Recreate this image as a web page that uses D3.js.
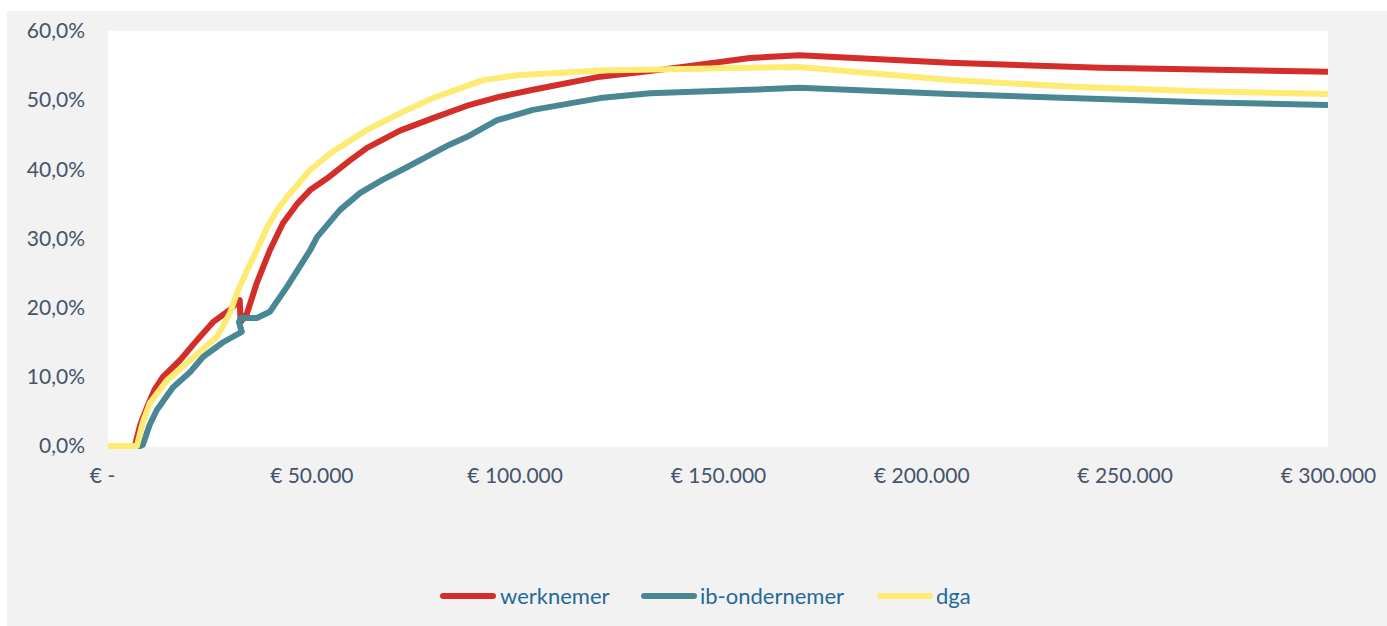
<!DOCTYPE html>
<html>
<head>
<meta charset="utf-8">
<script src="https://cdn.jsdelivr.net/npm/d3@7"></script>
<style>
  body { margin: 0; background: #fff; }
  svg { display: block; }
  .tick text { font-family: Lato, "Open Sans", sans-serif; font-size: 21px; fill: #44546a; }
</style>
</head>
<body>
<div id="graph_draw"></div>
<script>
// series names + colours
var seriesNames = ["werknemer", "ib-ondernemer", "dga"];
var seriesColors = ["#d42e2a", "#4a8795", "#fdeb74"];

// [inkomen, percentage]
var werknemer = [
  [0, 0], [6600, 0], [8000, 3.2], [9600, 5.6], [11500, 8.2], [13500, 10.0],
  [17700, 12.4], [21900, 15.3], [25800, 17.9], [30000, 19.7], [32400, 21.1],
  [32600, 17.9], [34200, 19.2], [36600, 23.6], [39800, 28.3], [43000, 32.2],
  [46500, 35.0], [49700, 37.0], [53900, 38.7], [59500, 41.3], [63700, 43.1],
  [71800, 45.6], [79900, 47.4], [88300, 49.2], [96400, 50.5], [104500, 51.5],
  [121000, 53.4], [133300, 54.2], [157900, 56.1], [170000, 56.5], [207000, 55.4],
  [244000, 54.7], [300000, 54.1]
];
var ibOndernemer = [
  [0, 0], [8000, 0], [8600, 0.2], [10200, 3.0], [12000, 5.2], [16000, 8.5],
  [20200, 10.7], [23400, 12.9], [28300, 15.0], [32900, 16.5], [32200, 17.9],
  [32600, 18.5], [36600, 18.5], [39800, 19.4], [44000, 23.0], [49700, 28.3],
  [51400, 30.2], [57000, 34.1], [62000, 36.6], [67600, 38.5], [73500, 40.3],
  [79200, 42.1], [84100, 43.6], [88300, 44.7], [95700, 47.1], [104500, 48.6],
  [121000, 50.3], [133300, 51.0], [157900, 51.5], [170000, 51.8], [207000, 50.9],
  [268500, 49.7], [300000, 49.3]
];
var dga = [
  [0, 0], [7100, 0], [8600, 3.5], [10300, 6.2], [14500, 9.5], [19400, 12.0],
  [26800, 15.8], [30000, 19.2], [31700, 22.1], [34200, 25.4], [36600, 28.3],
  [39100, 31.6], [41500, 34.0], [44000, 36.0], [49700, 39.9], [55300, 42.6],
  [63700, 45.7], [71800, 48.1], [79900, 50.3], [92200, 52.9], [100600, 53.6],
  [121000, 54.3], [157900, 54.7], [170000, 54.8], [207000, 52.9], [239000, 51.9],
  [268500, 51.3], [300000, 50.9]
];
var xTicks = [0, 50000, 100000, 150000, 200000, 250000, 300000];
var yTicks = [0, 10, 20, 30, 40, 50, 60];

var allSeries = [werknemer, ibOndernemer, dga];

var W = 1387, H = 626;
var plot = {left: 108, top: 31, right: 1328, bottom: 446};

var svg = d3.select("#graph_draw").append("svg")
    .attr("width", W)
    .attr("height", H);

// grey chart area
svg.append("rect")
    .attr("x", 7).attr("y", 11)
    .attr("width", W - 7).attr("height", H - 11)
    .attr("fill", "#f2f2f2");

// white plot area
svg.append("rect")
    .attr("x", plot.left).attr("y", plot.top)
    .attr("width", plot.right - plot.left).attr("height", plot.bottom - plot.top + 1)
    .attr("fill", "#fff");

var x = d3.scaleLinear().domain([0, 300000]).range([plot.left, plot.right]);
var y = d3.scaleLinear().domain([0, 60]).range([plot.bottom, plot.top]);

// euro format like excel: € 50.000, € -
function euro(d) {
    if (d === 0) return "€ -";
    return "€ " + d3.format(",")(d).replace(/,/g, ".");
}

// X axis
var gx = svg.append("g")
    .attr("transform", "translate(0," + (plot.bottom + 22) + ")")
    .call(d3.axisBottom(x).tickValues(xTicks).tickSize(0).tickFormat(euro));
gx.select(".domain").remove();
gx.selectAll("text").attr("dy", "0.71em").attr("y", 0);
gx.select(".tick:first-of-type text").attr("dx", "-6");

// Y axis
var gy = svg.append("g")
    .attr("transform", "translate(" + (plot.left - 23) + ",0)")
    .call(d3.axisLeft(y).tickValues(yTicks).tickSize(0)
        .tickFormat(function(d) { return d.toFixed(1).replace(".", ",") + "%"; }));
gy.select(".domain").remove();
gy.selectAll("text").attr("x", 0);

// the lines
var line = d3.line()
    .x(function(d) { return x(d[0]); })
    .y(function(d) { return y(d[1]); });

allSeries.forEach(function(s, i) {
    svg.append("path")
        .datum(s)
        .attr("fill", "none")
        .attr("stroke", seriesColors[i])
        .attr("stroke-width", 6)
        .attr("stroke-linejoin", "round")
        .attr("d", line);
});

// legend
var swatchX = [440, 641, 877];
var textX = [500, 700, 936];
var legend = svg.append("g").attr("transform", "translate(0,596)");
seriesNames.forEach(function(name, i) {
    legend.append("line")
        .attr("x1", swatchX[i] + 3).attr("x2", swatchX[i] + 53)
        .attr("y1", 0).attr("y2", 0)
        .attr("stroke", seriesColors[i])
        .attr("stroke-width", 6)
        .attr("stroke-linecap", "round");
    legend.append("text")
        .attr("x", textX[i])
        .attr("y", 0)
        .attr("dy", "0.35em")
        .attr("font-family", "Lato, 'Open Sans', sans-serif")
        .attr("font-size", 22)
        .attr("fill", "#1f6a9a")
        .text(name);
});
</script>
</body>
</html>
